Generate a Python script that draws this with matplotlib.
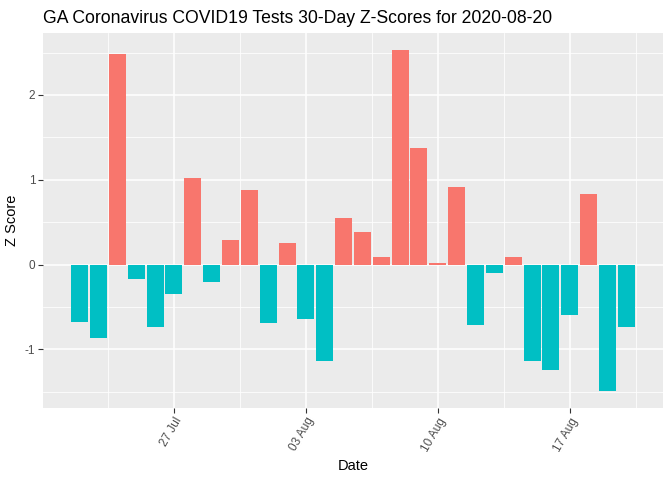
import numpy as np
import pandas as pd
import matplotlib
matplotlib.use('Agg')
import matplotlib.pyplot as plt
import matplotlib.dates as mdates

plt.rcParams['font.family'] = ['Liberation Sans', 'DejaVu Sans']
plt.rcParams['axes.unicode_minus'] = False

# data
dates = pd.date_range('2020-07-22', '2020-08-20', freq='D')
z_scores = [-0.68, -0.87, 2.48, -0.17, -0.74, -0.35, 1.02, -0.20, 0.29, 0.875,
            -0.69, 0.25, -0.64, -1.14, 0.55, 0.38, 0.094, 2.53, 1.38, 0.024,
            0.91, -0.71, -0.10, 0.094, -1.14, -1.24, -0.60, 0.83, -1.49, -0.73]
tick_dates = pd.to_datetime(['2020-07-27', '2020-08-03', '2020-08-10', '2020-08-17'])
y_ticks = [-1, 0, 1, 2]

pos_col = '#F8766D'
neg_col = '#00BFC4'
colors = [pos_col if v > 0 else neg_col for v in z_scores]

fig = plt.figure(figsize=(6.72, 4.8), dpi=100)
ax = fig.add_axes([43 / 672, 1 - 408 / 480, 620 / 672, 375 / 480])
ax.set_facecolor('#EBEBEB')

ax.bar(dates, z_scores, width=0.9, color=colors, zorder=3)

# limits like ggplot (5% expansion)
xnum = mdates.date2num(dates)
lo, hi = xnum.min() - 0.45, xnum.max() + 0.45
pad = (hi - lo) * 0.05
ax.set_xlim(lo - pad, hi + pad)
ylo, yhi = min(z_scores), max(z_scores)
ypad = (yhi - ylo) * 0.05
ax.set_ylim(ylo - ypad, yhi + ypad)

# ticks + grid
ax.set_xticks(mdates.date2num(tick_dates))
ax.xaxis.set_major_formatter(mdates.DateFormatter('%d %b'))
tnum = mdates.date2num(tick_dates)
minor_x = np.concatenate([[tnum[0] - 3.5], tnum + 3.5])
ax.set_xticks(minor_x, minor=True)
ax.set_yticks(y_ticks)
ax.set_yticks([-1.5, -0.5, 0.5, 1.5, 2.5], minor=True)

ax.grid(which='major', color='white', linewidth=1.1, zorder=1)
ax.grid(which='minor', color='white', linewidth=0.55, zorder=1)
ax.set_axisbelow(True)
for s in ax.spines.values():
    s.set_visible(False)

ax.tick_params(which='major', length=3.5, width=0.8, color='#333333',
               labelcolor='#4D4D4D', labelsize=8.5, pad=2)
ax.tick_params(which='minor', length=0)
for lab in ax.get_xticklabels():
    lab.set_rotation(60)
    lab.set_ha('right')
    lab.set_va('top')
    lab.set_rotation_mode('anchor')

ax.set_xlabel('Date', fontsize=10.5, labelpad=4)
ax.set_ylabel('Z Score', fontsize=10.5, labelpad=4)
ax.set_title('GA Coronavirus COVID19 Tests 30-Day Z-Scores for 2020-08-20',
             fontsize=12.7, loc='left', pad=7)

fig.savefig('out.png', dpi=100)
